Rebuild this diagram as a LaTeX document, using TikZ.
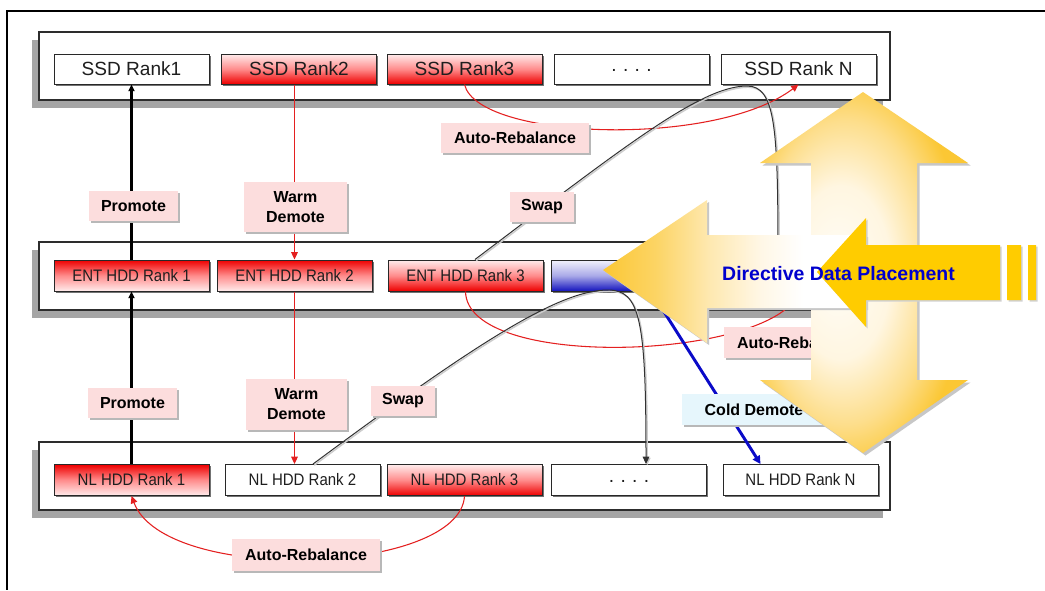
\documentclass[tikz,border=0pt]{standalone}
\usepackage{fontspec}
\setmainfont{Liberation Sans}
\newfontfamily\narrowsans{Liberation Sans}[FakeStretch=0.9]
\usetikzlibrary{arrows.meta,shadows}

% palette
\definecolor{boxline}{RGB}{40,40,40}
\definecolor{textdark}{RGB}{30,30,30}
\definecolor{redpale}{RGB}{255,236,236}
\definecolor{redmid}{RGB}{255,140,140}
\definecolor{redhot}{RGB}{238,0,0}
\definecolor{bluepale}{RGB}{242,242,252}
\definecolor{bluemid}{RGB}{170,170,232}
\definecolor{bluedeep}{RGB}{20,20,190}
\definecolor{tagpink}{RGB}{252,221,221}
\definecolor{coldcyan}{RGB}{230,246,252}
\definecolor{panelline}{RGB}{45,45,45}
\definecolor{panelshadow}{RGB}{165,165,165}
\definecolor{redline}{RGB}{228,32,32}
\definecolor{swapgray}{RGB}{50,50,50}
\definecolor{colddeep}{RGB}{10,10,200}
\definecolor{gold}{RGB}{251,199,52}
\definecolor{solidgold}{RGB}{255,204,0}
\definecolor{placeblue}{RGB}{0,0,205}
\definecolor{glowwhite}{RGB}{255,253,248}
\definecolor{glowcream}{RGB}{255,246,225}
\definecolor{glowpale}{RGB}{253,222,140}
\definecolor{fadeA}{RGB}{252,212,100}
\definecolor{fadeB}{RGB}{254,232,175}
\definecolor{fadeC}{RGB}{255,247,230}

% shading of the up/down arrow: light core left of centre, gold rim
\pgfdeclareradialshading{stemglow}{\pgfpoint{-7bp}{0bp}}{%
  color(0bp)=(glowwhite); color(12bp)=(glowcream); color(21bp)=(glowpale);
  color(28bp)=(gold); color(60bp)=(gold)}
% shading of the left arrow: gold tip fading to white
\pgfdeclarehorizontalshading{tipfade}{100bp}{%
  color(0bp)=(gold); color(25bp)=(gold); color(35bp)=(fadeA);
  color(45bp)=(fadeB); color(55bp)=(fadeC); color(63bp)=(white);
  color(100bp)=(white)}

\begin{document}
\begin{tikzpicture}[x=0.75pt,y=-0.75pt,
  panel/.style={draw=panelline, line width=0.9pt, fill=white,
    drop shadow={shadow xshift=-5.25pt, shadow yshift=-6pt, fill=panelshadow, opacity=1}},
  rank/.style={draw=boxline, line width=0.75pt, fill=white, inner sep=0pt,
    minimum width=116.25pt, minimum height=22.5pt, text=textdark,
    drop shadow={shadow xshift=1.2pt, shadow yshift=-1.2pt, fill=black!55, opacity=1}},
  ssdtxt/.style={font=\fontsize{14.3}{16}\selectfont},
  hddtxt/.style={font=\narrowsans\fontsize{12.5}{14}\selectfont, minimum height=23.25pt},
  hotdown/.style={top color=redpale, bottom color=redhot, middle color=redmid},
  hotup/.style={top color=redhot, bottom color=redpale, middle color=redmid},
  coolblue/.style={top color=bluepale, bottom color=bluedeep, middle color=bluemid},
  tag/.style={fill=tagpink, inner sep=0pt, align=center, text=black,
    font=\bfseries\fontsize{12}{15}\selectfont,
    drop shadow={shadow xshift=1.5pt, shadow yshift=-1.5pt, fill=black!28, opacity=1}},
  coldtag/.style={tag, fill=coldcyan},
  promote/.style={line width=1.6pt, draw=black, -{Triangle[length=5pt,width=4.5pt]}},
  warm/.style={line width=0.8pt, draw=redline, -{Triangle[length=5.5pt,width=5pt]}},
  swapline/.style={line width=0.75pt, draw=swapgray,
    preaction={draw=black!20, line width=1.1pt, transform canvas={xshift=0.9pt, yshift=-0.9pt}}},
  swaptip/.style={swapline, -{Triangle[length=5.5pt,width=5pt]}},
  cold/.style={line width=2.2pt, draw=colddeep, -{Triangle[length=6pt,width=6pt]}},
  bigshadow/.style={fill=black!22},
]
\useasboundingbox (0,0) rectangle (1045,590);
\fill[white] (0,0) rectangle (1045,590);

% outer frame
\draw[line width=0.9pt] (1045,11) -- (7,11) -- (7,590);

% tier panels
\path[panel] (39,32) rectangle (890,100);
\path[panel] (39,242) rectangle (890,310);
\path[panel] (39,442) rectangle (890,510);

% SSD tier
\node[rank, ssdtxt] (s1) at (131.5,69) {SSD Rank1};
\node[rank, ssdtxt, hotdown] (s2) at (299,69) {SSD Rank2};
\node[rank, ssdtxt, hotdown] (s3) at (464.5,69) {SSD Rank3};
\node[rank, ssdtxt] (s4) at (631.5,69) {\raisebox{-0.45ex}{.\,\,.\,\,.\,\,.}};
\node[rank, ssdtxt] (s5) at (798.5,69) {SSD Rank N};

% ENT HDD tier
\node[rank, hddtxt, hotup] (e1) at (131.5,275.5) {ENT HDD Rank 1};
\node[rank, hddtxt, hotup] (e2) at (294.5,275.5) {ENT HDD Rank 2};
\node[rank, hddtxt, hotdown] (e3) at (465.5,275.5) {ENT HDD Rank 3};
\node[rank, hddtxt, coolblue] (e4) at (628.5,275.5) {};
\coordinate (e5t) at (778,262);
\coordinate (e5b) at (800,291);

% NL HDD tier
\node[rank, hddtxt, hotup] (n1) at (131.5,480) {NL HDD Rank 1};
\node[rank, hddtxt] (n2) at (302.5,480) {NL HDD Rank 2};
\node[rank, hddtxt, hotdown] (n3) at (464.5,480) {NL HDD Rank 3};
\node[rank, ssdtxt, minimum height=23.25pt] (n4) at (629,480) {\raisebox{-0.45ex}{.\,\,.\,\,.\,\,.}};
\node[rank, hddtxt] (n5) at (800.5,480) {NL HDD Rank N};

% promotions
\draw[promote] (e1.north) -- (s1.south);
\draw[promote] (n1.north) -- (e1.south);

% warm demotions
\draw[warm] (e2.north |- s2.south) -- (e2.north);
\draw[warm] (e2.south) -- (e2.south |- n2.north);

% auto-rebalance within tiers
\draw[warm] (s3.south) .. controls (478,140) and (715,148) .. (s5.south);
\draw[warm] (e3.south) .. controls (467,370) and (760,360) .. (e5b);
\draw[warm] (n3.south) .. controls (460,575) and (165,585) .. (n1.south);

% swaps
\draw[swapline] ([xshift=7.1pt]e3.north) .. controls (620,150) and (700,86) .. (747,86)
  .. controls (776,86) and (778,130) .. (e5t);
\draw[swaptip] ([xshift=7.9pt]n2.north) .. controls (480,340) and (560,290) .. (608,290)
  .. controls (640,290) and (646,320) .. ([xshift=12.75pt]n4.north);

% cold demotion
\draw[cold] ([xshift=17pt]e4.south) -- ([xshift=-30pt]n5.north);

% movement labels
\node[tag, minimum width=66.75pt, minimum height=22.5pt] (lp1) at (133.5,206) {Promote};
\node[tag, minimum width=77.25pt, minimum height=37.5pt] (lw1) at (295.5,207) {Warm\\Demote};
\node[tag, minimum width=48pt, minimum height=22.5pt] (lsw1) at (542,207) {Swap};
\node[tag, minimum width=111pt, minimum height=22.5pt] (la1) at (515,138) {Auto-Rebalance};
\node[tag, minimum width=66.75pt, minimum height=22.5pt] (lp2) at (132.5,403) {Promote};
\node[tag, minimum width=75.75pt, minimum height=38.25pt] (lw2) at (296.5,404.5) {Warm\\Demote};
\node[tag, minimum width=48pt, minimum height=22.5pt] (lsw2) at (403,401) {Swap};
\node[tag, minimum width=111pt, minimum height=24pt] (la3) at (306,555) {Auto-Rebalance};
\node[tag, minimum width=111pt, minimum height=23.25pt] (la2) at (798,342.5) {Auto-Rebalance};
\node[coldtag, minimum width=108pt, minimum height=23.25pt] (lcd) at (754,409.5) {Cold Demote};

% directive data placement arrows
\fill[bigshadow, shift={(2.5,2.5)}] (863,92) -- (968,163) -- (917,163) -- (917,380) -- (968,380)
  -- (863,453) -- (760,380) -- (811,380) -- (811,163) -- (760,163) -- cycle;
\shade[shading=stemglow] (863,92) -- (968,163) -- (917,163) -- (917,380) -- (968,380)
  -- (863,453) -- (760,380) -- (811,380) -- (811,163) -- (760,163) -- cycle;
\fill[bigshadow, shift={(2,2)}] (603,270) -- (707,200) -- (707,235) -- (866,235) -- (866,308)
  -- (707,308) -- (707,343) -- cycle;
\shade[shading=tipfade] (603,270) -- (707,200) -- (707,235) -- (866,235) -- (866,308)
  -- (707,308) -- (707,343) -- cycle;
\fill[black!18, shift={(1.5,1.5)}] (817,272) -- (866,218) -- (866,245) -- (1000,245) -- (1000,300)
  -- (866,300) -- (866,327) -- cycle;
\fill[solidgold] (817,272) -- (866,218) -- (866,245) -- (1000,245) -- (1000,300)
  -- (866,300) -- (866,327) -- cycle;
\fill[black!18] (1008.5,246.5) rectangle (1022.5,301.5) (1029.5,246.5) rectangle (1037.5,301.5);
\fill[solidgold] (1007,245) rectangle (1021,300) (1028,245) rectangle (1036,300);

\node[font=\bfseries\fontsize{14.6}{16}\selectfont, text=placeblue] (ddp) at (838.5,273.5)
  {Directive Data Placement};
\end{tikzpicture}
\end{document}
